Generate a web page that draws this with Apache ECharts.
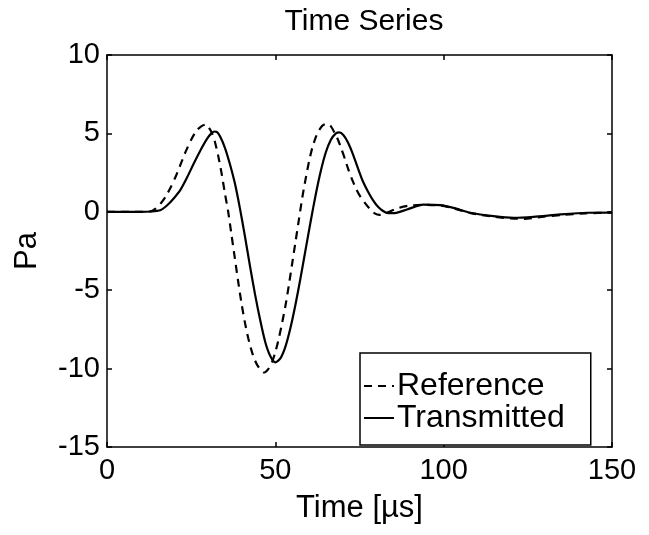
<!DOCTYPE html>
<html>
<head>
<meta charset="utf-8">
<script src="https://cdn.jsdelivr.net/npm/echarts@6/dist/echarts.min.js"></script>
<style>html,body{margin:0;padding:0;background:#fff;}#c{width:649px;height:535px;}</style>
</head>
<body>
<div id="c"></div>
<script>
// Reference (dashed) waveform
const refTime = [0, 5, 10, 13, 14.4, 16.0, 17.5, 19.0, 20.5, 22.0, 23.5, 25.0, 26.5, 28.0, 29.3, 30.0, 31.0, 32.0, 33.0, 34.0, 35.0, 36.0, 37.0, 38.0, 39.0, 40.0, 41.0, 42.0, 43.0, 44.0, 45.0, 46.7, 48.0, 49.0, 50.0, 51.0, 52.0, 53.0, 54.0, 55.0, 56.0, 57.0, 58.0, 59.0, 60.0, 61.0, 62.0, 63.0, 64.0, 65.3, 66.5, 67.7, 68.7, 69.7, 70.7, 71.7, 72.9, 74.1, 75.3, 76.6, 78.0, 79.5, 81.0, 82.5, 84.0, 86.0, 88.0, 90.0, 94.0, 99.0, 103.0, 108.0, 115.0, 120.0, 124.0, 128.0, 135.0, 142.0, 150.0];
const refValues = [0, 0, 0, 0.03, 0.2, 0.55, 1.0, 1.6, 2.3, 3.1, 3.9, 4.6, 5.15, 5.45, 5.56, 5.45, 5.1, 4.5, 3.6, 2.5, 1.2, 0, -1.5, -3.0, -4.5, -5.9, -7.1, -8.1, -8.9, -9.5, -9.9, -10.25, -10.0, -9.6, -8.95, -8.1, -7.1, -6.0, -4.7, -3.3, -1.9, -0.5, 0.9, 2.1, 3.2, 4.1, 4.75, 5.2, 5.5, 5.62, 5.45, 5.0, 4.55, 3.97, 3.35, 2.69, 2.0, 1.42, 0.95, 0.57, 0.2, -0.1, -0.2, -0.12, 0.02, 0.2, 0.33, 0.4, 0.45, 0.4, 0.22, -0.08, -0.32, -0.42, -0.45, -0.35, -0.2, -0.1, -0.05];

// Transmitted (solid) waveform
const transTime = [0, 5, 10, 13, 15.8, 17.8, 19.8, 21.8, 23.8, 25.7, 27.7, 29.7, 31.0, 31.9, 32.7, 33.6, 35.0, 36.5, 38.0, 39.5, 41.0, 42.5, 44.0, 45.5, 47.0, 48.5, 50.0, 51.5, 53.0, 54.5, 56.0, 57.5, 59.0, 60.5, 62.0, 63.5, 65.0, 66.5, 68.0, 69.0, 70.2, 71.5, 73.0, 74.5, 76.0, 77.5, 79.0, 80.5, 82.0, 83.5, 85.5, 89.1, 94.0, 99.0, 102.9, 107.9, 114.8, 120.8, 126.7, 134.6, 142.6, 150.0];
const transValues = [0, 0, 0, 0.02, 0.1, 0.4, 0.85, 1.4, 2.2, 3.05, 3.9, 4.65, 5.0, 5.12, 5.08, 4.8, 4.1, 3.05, 1.8, 0.2, -1.6, -3.5, -5.3, -6.9, -8.3, -9.2, -9.6, -9.35, -8.6, -7.4, -5.9, -4.2, -2.4, -0.6, 1.1, 2.6, 3.8, 4.6, 5.0, 5.07, 4.9, 4.45, 3.7, 2.8, 1.95, 1.3, 0.75, 0.32, 0.05, -0.08, -0.08, 0.15, 0.46, 0.42, 0.25, -0.06, -0.28, -0.38, -0.32, -0.17, -0.06, -0.05];

const xTicks = [0, 50, 100, 150];
const yTicks = [-15, -10, -5, 0, 5, 10];

const pair = (t, v) => t.map((x, i) => [x, v[i]]);
const font = '"Liberation Sans", Arial, Helvetica, sans-serif';

const chart = echarts.init(document.getElementById('c'), null, {renderer: 'canvas'});
const axisCommon = {
  axisLine: {show: true, onZero: false, lineStyle: {color: '#000', width: 1.5}},
  axisTick: {show: true, inside: true, length: 5, lineStyle: {color: '#000', width: 1.5}},
  splitLine: {show: false}
};
chart.setOption({
  animation: false,
  backgroundColor: '#fff',
  title: {
    text: 'Time Series', left: 359, top: 2, textAlign: 'center',
    textStyle: {fontFamily: font, fontSize: 30, fontWeight: 'normal', color: '#000'}
  },
  grid: {left: 107, right: 37, top: 55, bottom: 88, containLabel: false},
  legend: {
    orient: 'vertical', left: 360, top: 353,
    data: ['Reference', 'Transmitted'],
    itemWidth: 30, itemHeight: 14, itemGap: 0,
    padding: [17, 26, 11, 3],
    backgroundColor: '#fff', borderColor: '#000', borderWidth: 1.5, borderRadius: 0,
    itemStyle: {opacity: 0},
    textStyle: {fontFamily: font, fontSize: 32, lineHeight: 27, color: '#000', padding: [0, 0, 0, -2]}
  },
  xAxis: [
    Object.assign({}, axisCommon, {
      type: 'value', min: xTicks[0], max: xTicks[xTicks.length - 1], interval: 50, position: 'bottom',
      name: 'Time [µs]', nameLocation: 'middle', nameGap: 46,
      nameTextStyle: {fontFamily: font, fontSize: 31, color: '#000'},
      axisLabel: {fontFamily: font, fontSize: 29, color: '#000', margin: 9}
    }),
    Object.assign({}, axisCommon, {
      type: 'value', min: xTicks[0], max: xTicks[xTicks.length - 1], interval: 50, position: 'top',
      axisLabel: {show: false}
    })
  ],
  yAxis: [
    Object.assign({}, axisCommon, {
      type: 'value', min: yTicks[0], max: yTicks[yTicks.length - 1], interval: 5, position: 'left',
      name: 'Pa', nameLocation: 'middle', nameGap: 64,
      nameTextStyle: {fontFamily: font, fontSize: 31, color: '#000'},
      axisLabel: {fontFamily: font, fontSize: 29, color: '#000', margin: 7}
    }),
    Object.assign({}, axisCommon, {
      type: 'value', min: yTicks[0], max: yTicks[yTicks.length - 1], interval: 5, position: 'right',
      axisLabel: {show: false}
    })
  ],
  series: [
    {
      name: 'Reference', type: 'line', data: pair(refTime, refValues),
      showSymbol: false, symbol: 'none', smooth: 0.25,
      lineStyle: {color: '#000', width: 2.2, type: [8, 6]},
      itemStyle: {color: '#000'}
    },
    {
      name: 'Transmitted', type: 'line', data: pair(transTime, transValues),
      showSymbol: false, symbol: 'none', smooth: 0.25,
      lineStyle: {color: '#000', width: 2.2, type: 'solid'},
      itemStyle: {color: '#000'}
    }
  ]
});
</script>
</body>
</html>
